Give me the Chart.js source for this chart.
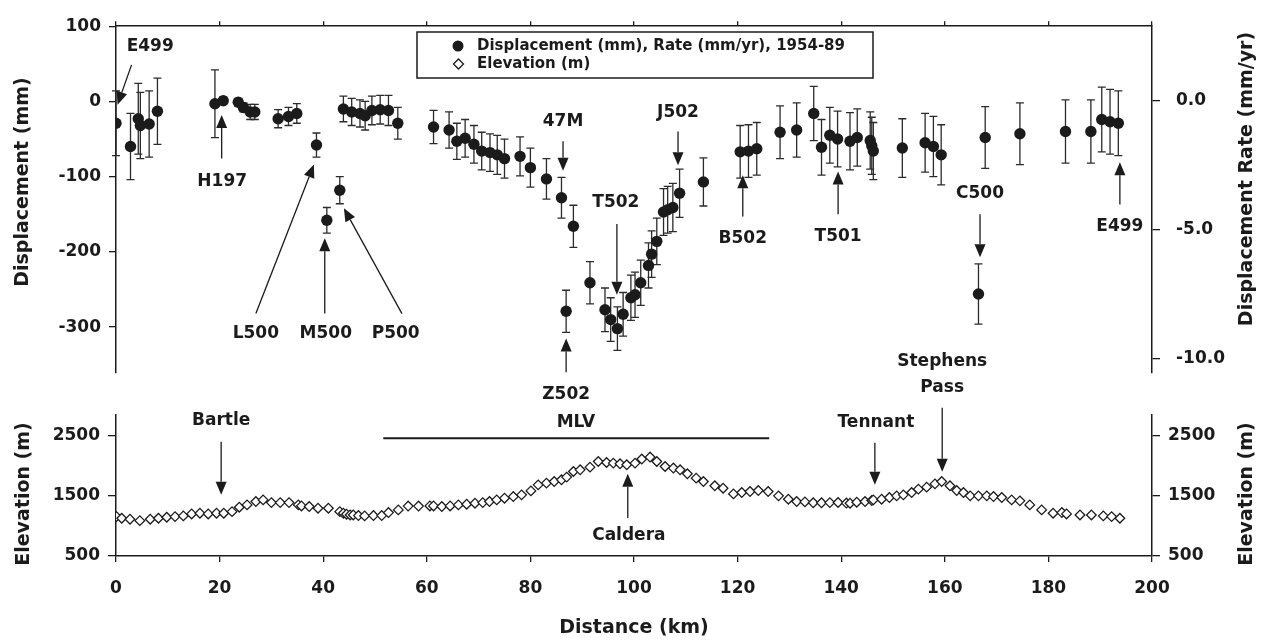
<!DOCTYPE html>
<html>
<head>
<meta charset="utf-8">
<script src="https://cdn.jsdelivr.net/npm/chart.js@4.4.1/dist/chart.umd.min.js"></script>
<style>
html, body { margin: 0; padding: 0; background: #fff; }
#wrap { position: relative; width: 1263px; height: 641px; }
#wrap canvas { position: absolute; left: 0; top: 0; }
</style>
</head>
<body>
<div id="wrap">
  <canvas id="disp-chart" width="1263" height="641"></canvas>
  <canvas id="elev-chart" width="1263" height="641"></canvas>
</div>
<script>
// leveling line, displacement 1954-89
const dispKm = [0.0, 2.8, 4.3, 4.7, 6.4, 8.0, 19.1, 20.7, 23.6, 24.6, 25.9, 26.8, 31.3, 33.3, 34.9,
  38.7, 40.7, 43.2, 43.9, 45.5, 47.1, 48.1, 49.4, 51.0, 52.6, 54.4, 61.3, 64.3, 65.8, 67.4, 69.1,
  70.6, 72.2, 73.6, 75.0, 78.0, 80.0, 83.1, 86.0, 86.9, 88.3, 91.5, 94.4, 95.5, 96.8, 97.9, 99.4,
  100.2, 101.3, 102.8, 103.4, 104.4, 105.7, 106.5, 107.5, 108.8, 113.4, 120.5, 122.1, 123.7, 128.2,
  131.4, 134.7, 136.2, 137.8, 139.3, 141.7, 143.1, 145.6, 145.9, 146.2, 151.8, 156.2, 157.8, 159.3,
  166.5, 167.8, 174.5, 183.3, 188.2, 190.3, 191.9, 193.5]
const dispMm = [-29, -60, -23, -32, -30, -13, -3, 1, -1, -8, -14, -14, -23, -20, -16,
  -58, -158, -118, -10, -14, -16, -19, -12, -11, -12, -29, -34, -38, -53, -49, -57,
  -66, -68, -71, -76, -73, -88, -103, -128, -279, -166, -241, -277, -290, -302, -283, -261,
  -257, -241, -218, -203, -186, -147, -144, -141, -122, -107, -67, -66, -63, -41,
  -38, -16, -61, -45, -50, -53, -48, -52, -59, -66, -62, -55, -60, -71,
  -256, -48, -43, -40, -40, -24, -27, -29]
const dispErr = [43, 44, 47, 44, 44, 44, 45, 5, 5, 6, 10, 10, 12, 12, 13,
  16, 17, 18, 17, 18, 18, 19, 19, 19, 20, 21, 22, 24, 24, 25, 25,
  25, 25, 26, 26, 26, 26, 27, 27, 28, 28, 28, 29, 29, 29, 29, 30,
  30, 30, 30, 31, 31, 31, 31, 32, 32, 32, 35, 35, 35, 35,
  36, 36, 37, 37, 37, 38, 38, 38, 38, 38, 39, 39, 40, 40,
  40, 41, 41, 42, 42, 43, 43, 43]

// topographic profile
const elevKm = [0.1, 1.1, 2.7, 4.6, 6.6, 8.2, 9.8, 11.4, 13.0, 14.6, 16.2, 17.8, 19.4, 20.8, 22.4,
  23.8, 25.3, 27.0, 28.4, 30.0, 31.7, 33.4, 35.2, 35.8, 37.3, 39.0, 41.0, 43.2, 43.9, 44.5, 45.2,
  45.8, 46.8, 48.0, 49.7, 51.3, 52.6, 54.5, 56.4, 58.4, 60.6, 61.3, 62.9, 64.5, 66.1, 67.7, 69.3,
  70.8, 72.1, 73.5, 75.0, 76.7, 78.3, 80.1, 81.5, 83.1, 84.6, 86.0, 87.0, 88.3, 89.6, 91.5, 93.1,
  94.7, 96.0, 97.3, 98.6, 100.2, 101.5, 103.1, 104.4, 106.0, 107.6, 108.9, 110.3, 112.0, 113.4,
  115.6, 117.2, 119.2, 120.8, 122.4, 124.0, 125.9, 127.9, 129.8, 131.4, 133.0, 134.6, 136.2, 137.8,
  139.4, 141.0, 141.7, 143.0, 144.6, 145.9, 146.2, 147.8, 149.3, 150.7, 152.0, 153.6, 154.9, 156.5,
  158.1, 159.4, 161.0, 162.3, 163.6, 164.9, 166.5, 168.1, 169.4, 171.0, 172.9, 174.5, 176.4, 178.7,
  180.9, 182.6, 183.5, 186.1, 188.3, 190.6, 192.2, 193.8]
const elevM = [1155, 1128, 1112, 1088, 1112, 1128, 1145, 1155, 1167, 1200, 1212, 1200, 1212, 1212, 1238,
  1312, 1350, 1405, 1433, 1388, 1388, 1388, 1350, 1333, 1322, 1295, 1295, 1238, 1212, 1195, 1183,
  1183, 1172, 1167, 1172, 1172, 1222, 1267, 1330, 1330, 1333, 1333, 1322, 1333, 1350, 1362, 1378,
  1388, 1405, 1433, 1462, 1488, 1517, 1583, 1683, 1712, 1738, 1767, 1812, 1905, 1933, 1978, 2072,
  2055, 2045, 2033, 2017, 2045, 2112, 2145, 2072, 1988, 1962, 1933, 1867, 1795, 1738,
  1667, 1628, 1533, 1555, 1572, 1588, 1572, 1500, 1445, 1405, 1400, 1385, 1385, 1388,
  1390, 1380, 1378, 1395, 1405, 1422, 1433, 1445, 1472, 1500, 1517, 1555, 1612, 1645,
  1700, 1738, 1667, 1588, 1555, 1500, 1500, 1500, 1488, 1472, 1433, 1417, 1350, 1267,
  1212, 1222, 1200, 1183, 1183, 1167, 1155, 1128]

const seriesNames = ['Displacement (mm), Rate (mm/yr), 1954-89', 'Elevation (m)']
const distTicks = [0, 20, 40, 60, 80, 100, 120, 140, 160, 180, 200]
const dispTicks = [100, 0, -100, -200, -300]
const rateTicks = [0, -5, -10]
const elevTicks = [500, 1500, 2500]

// benchmark labels: [km, value] for label, arrow tail, arrow tip
const dispNotes = [
  { text: 'E499', label: [6.6, 72.8], tail: [3.0, 48.6], tip: [0.3, -4.3] },
  { text: 'H197', label: [20.5, -107], tail: [20.4, -76], tip: [20.4, -18] },
  { text: 'L500', label: [27.0, -309], tail: [27.0, -282], tip: [38.2, -84] },
  { text: 'M500', label: [40.5, -309], tail: [40.3, -282], tip: [40.3, -182] },
  { text: 'P500', label: [54.0, -309], tail: [55.2, -282], tip: [44.0, -142] },
  { text: '47M', label: [86.3, -27], tail: [86.3, -53], tip: [86.3, -92] },
  { text: 'T502', label: [96.5, -135], tail: [96.7, -163], tip: [96.7, -257] },
  { text: 'J502', label: [108.5, -15], tail: [108.5, -40], tip: [108.5, -85] },
  { text: 'Z502', label: [86.9, -390], tail: [86.9, -360], tip: [86.9, -315] },
  { text: 'B502', label: [121.0, -182], tail: [121.0, -153], tip: [121.0, -98] },
  { text: 'T501', label: [139.4, -180], tail: [139.4, -150], tip: [139.4, -93] },
  { text: 'C500', label: [166.8, -122], tail: [166.8, -150], tip: [166.8, -207] },
  { text: 'E499', label: [193.8, -166], tail: [193.8, -137], tip: [193.8, -81] }
]
const elevNotes = [
  { text: 'Bartle', label: [20.3, 2750], tail: [20.3, 2400], tip: [20.3, 1517] },
  { text: 'Caldera', label: [99.0, 833], tail: [98.8, 1133], tip: [98.8, 1867] },
  { text: 'Tennant', label: [146.7, 2717], tail: [146.5, 2383], tip: [146.5, 1683] },
  { text: 'Stephens', label: [159.5, 3733] },
  { text: 'Pass', label: [159.5, 3300], tail: [159.5, 2967], tip: [159.5, 1900] },
  { text: 'MLV', label: [88.8, 2717], span: [51.6, 126.1, 2460] }
]

const FONT = 'DejaVu Sans'
const INK = '#1b1b1b'
Chart.defaults.font.family = FONT
Chart.defaults.font.weight = 'bold'
Chart.defaults.color = INK

const drawArrow = (ctx, x1, y1, x2, y2) => {
    const ang = Math.atan2(y2 - y1, x2 - x1)
    const headLen = 13, headW = 5.5
    const bx = x2 - headLen * Math.cos(ang)
    const by = y2 - headLen * Math.sin(ang)
    ctx.beginPath()
    ctx.moveTo(x1, y1)
    ctx.lineTo(bx, by)
    ctx.stroke()
    ctx.beginPath()
    ctx.moveTo(x2, y2)
    ctx.lineTo(bx + headW * Math.sin(ang), by - headW * Math.cos(ang))
    ctx.lineTo(bx - headW * Math.sin(ang), by + headW * Math.cos(ang))
    ctx.closePath()
    ctx.fill()
}

const drawNotes = (chart, notes, yId) => {
    const ctx = chart.ctx
    const xs = chart.scales.x
    const ys = chart.scales[yId]
    const px = p => [xs.getPixelForValue(p[0]), ys.getPixelForValue(p[1])]
    ctx.save()
    ctx.fillStyle = INK
    ctx.strokeStyle = INK
    ctx.lineWidth = 1.3
    ctx.font = 'bold 17px "' + FONT + '"'
    ctx.textAlign = 'center'
    ctx.textBaseline = 'middle'
    notes.forEach(n => {
        const [lx, ly] = px(n.label)
        ctx.fillText(n.text, lx, ly)
        if (n.tail) {
            const [tx, ty] = px(n.tail)
            const [hx, hy] = px(n.tip)
            drawArrow(ctx, tx, ty, hx, hy)
        }
        if (n.span) {
            const y = ys.getPixelForValue(n.span[2])
            ctx.lineWidth = 2
            ctx.beginPath()
            ctx.moveTo(xs.getPixelForValue(n.span[0]), y)
            ctx.lineTo(xs.getPixelForValue(n.span[1]), y)
            ctx.stroke()
            ctx.lineWidth = 1.3
        }
    })
    ctx.restore()
}

const vTitle = (ctx, text, x, y) => {
    ctx.save()
    ctx.translate(x, y)
    ctx.rotate(-Math.PI / 2)
    ctx.font = 'bold 19px "' + FONT + '"'
    ctx.fillStyle = INK
    ctx.textAlign = 'center'
    ctx.textBaseline = 'middle'
    ctx.fillText(text, 0, 0)
    ctx.restore()
}

const errorBars = {
    id: 'errorBars',
    beforeDatasetsDraw(chart) {
        const {ctx, scales: {x, y}} = chart
        ctx.save()
        ctx.strokeStyle = '#2b2b2b'
        ctx.lineWidth = 1.3
        for (let i = 0; i < dispKm.length; i++) {
            const px = x.getPixelForValue(dispKm[i])
            const hi = y.getPixelForValue(dispMm[i] + dispErr[i])
            const lo = y.getPixelForValue(dispMm[i] - dispErr[i])
            ctx.beginPath()
            ctx.moveTo(px, hi)
            ctx.lineTo(px, lo)
            ctx.moveTo(px - 4, hi)
            ctx.lineTo(px + 4, hi)
            ctx.moveTo(px - 4, lo)
            ctx.lineTo(px + 4, lo)
            ctx.stroke()
        }
        ctx.restore()
    }
}

const dispDecor = {
    id: 'dispDecor',
    afterDraw(chart) {
        const ctx = chart.ctx
        drawNotes(chart, dispNotes, 'y')
        vTitle(ctx, 'Displacement (mm)', 23, 182)
        vTitle(ctx, 'Displacement Rate (mm/yr)', 1247, 179)

        // legend box
        ctx.save()
        ctx.strokeStyle = INK
        ctx.lineWidth = 1.5
        ctx.strokeRect(417, 32, 456, 46)
        ctx.fillStyle = INK
        ctx.beginPath()
        ctx.arc(458, 46, 5.5, 0, Math.PI * 2)
        ctx.fill()
        ctx.lineWidth = 1.3
        ctx.beginPath()
        ctx.moveTo(453.5, 64)
        ctx.lineTo(458.5, 59)
        ctx.lineTo(463.5, 64)
        ctx.lineTo(458.5, 69)
        ctx.closePath()
        ctx.stroke()
        ctx.font = 'bold 15px "' + FONT + '"'
        ctx.textBaseline = 'middle'
        ctx.fillText(seriesNames[0], 477, 46)
        ctx.fillText(seriesNames[1], 477, 64)
        ctx.restore()
    }
}

const elevDecor = {
    id: 'elevDecor',
    afterDraw(chart) {
        drawNotes(chart, elevNotes, 'y')
        vTitle(chart.ctx, 'Elevation (m)', 24, 494)
        vTitle(chart.ctx, 'Elevation (m)', 1247, 494)
    }
}

const axisLine = { color: INK, width: 1.5 }
const tickFont = { size: 17, weight: 'bold', family: FONT }
const setTicks = list => scale => { scale.ticks = list.map(v => ({ value: v })) }
const plain = v => String(v)

const dispChart = new Chart(document.getElementById('disp-chart'), {
    type: 'scatter',
    data: {
        datasets: [{
            label: seriesNames[0],
            data: dispKm.map((km, i) => ({ x: km, y: dispMm[i] })),
            pointRadius: 5.7,
            pointHoverRadius: 5.7,
            backgroundColor: INK,
            borderColor: INK,
            borderWidth: 0
        }]
    },
    options: {
        responsive: false,
        animation: false,
        devicePixelRatio: 1,
        events: [],
        layout: { padding: { top: 0, bottom: 641 - 373, left: 0, right: 0 } },
        plugins: { legend: { display: false }, tooltip: { enabled: false } },
        scales: {
            x: {
                type: 'linear', position: 'top', min: 0, max: 200,
                afterBuildTicks: setTicks(distTicks),
                ticks: { display: false },
                grid: { drawOnChartArea: false, tickLength: 5, color: INK, lineWidth: 1.3 },
                border: axisLine,
                afterFit: s => { s.height = 17 }
            },
            y: {
                position: 'left', min: -361, max: 100,
                afterBuildTicks: setTicks(dispTicks),
                ticks: { font: tickFont, color: INK, padding: 8, callback: plain },
                grid: { drawOnChartArea: false, tickLength: 7, color: INK, lineWidth: 1.3 },
                border: axisLine,
                afterFit: s => { s.width = 116 }
            },
            y2: {
                position: 'right', min: -10.55, max: 2.88,
                afterBuildTicks: setTicks(rateTicks),
                ticks: { font: tickFont, color: INK, padding: 16, callback: v => v.toFixed(1) },
                grid: { drawOnChartArea: false, tickLength: 8, color: INK, lineWidth: 1.3 },
                border: axisLine,
                afterFit: s => { s.width = 1263 - 1152 }
            }
        }
    },
    plugins: [errorBars, dispDecor]
})

const elevChart = new Chart(document.getElementById('elev-chart'), {
    type: 'scatter',
    data: {
        datasets: [{
            label: seriesNames[1],
            data: elevKm.map((km, i) => ({ x: km, y: elevM[i] })),
            pointStyle: 'rectRot',
            pointRadius: 4.8,
            pointHoverRadius: 4.8,
            backgroundColor: '#ffffff',
            borderColor: INK,
            borderWidth: 1.3
        }]
    },
    options: {
        responsive: false,
        animation: false,
        devicePixelRatio: 1,
        events: [],
        layout: { padding: { top: 415, bottom: 0, left: 0, right: 0 } },
        plugins: { legend: { display: false }, tooltip: { enabled: false } },
        scales: {
            x: {
                type: 'linear', position: 'bottom', min: 0, max: 200,
                afterBuildTicks: setTicks(distTicks),
                ticks: { font: tickFont, color: INK, padding: 16, maxRotation: 0, callback: plain },
                grid: { drawOnChartArea: false, tickLength: 6, color: INK, lineWidth: 1.3 },
                border: axisLine,
                title: { display: true, text: 'Distance (km)', font: { size: 19, weight: 'bold', family: FONT }, color: INK, padding: { top: 0, bottom: 2 } },
                afterFit: s => { s.height = 641 - 556 }
            },
            y: {
                position: 'left', min: 500, max: 2845,
                afterBuildTicks: setTicks(elevTicks),
                ticks: { font: tickFont, color: INK, padding: 8, callback: plain },
                grid: { drawOnChartArea: false, tickLength: 8, color: INK, lineWidth: 1.3 },
                border: axisLine,
                afterFit: s => { s.width = 116 }
            },
            y2: {
                position: 'right', min: 500, max: 2845,
                afterBuildTicks: setTicks(elevTicks),
                ticks: { font: tickFont, color: INK, padding: 8, callback: plain },
                grid: { drawOnChartArea: false, tickLength: 8, color: INK, lineWidth: 1.3 },
                border: axisLine,
                afterFit: s => { s.width = 1263 - 1152 }
            }
        }
    },
    plugins: [elevDecor]
})
</script>
</body>
</html>
